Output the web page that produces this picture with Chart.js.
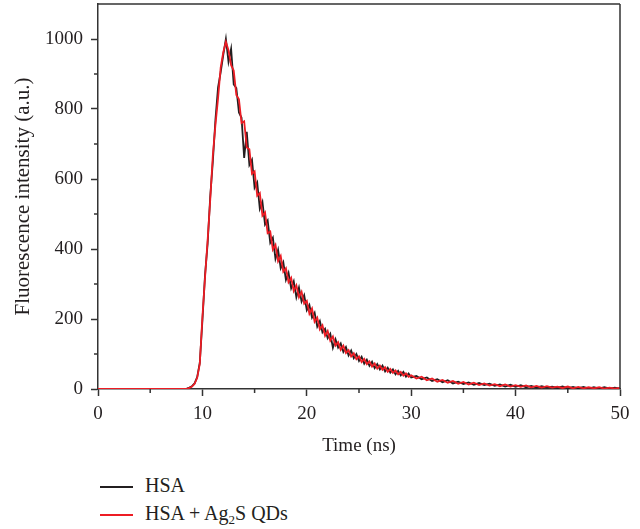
<!DOCTYPE html>
<html>
<head>
<meta charset="utf-8">
<script src="https://cdn.jsdelivr.net/npm/chart.js@4"></script>
<style>
  body { margin: 0; background: #fff; }
  #wrap { position: relative; width: 640px; height: 529px; font-family: 'Liberation Serif', serif; color: #231f20; }
  #box { position: absolute; left: 0; top: 0; width: 640px; height: 460px; }
  .leg { position: absolute; left: 100px; font-size: 20px; line-height: 22px; }
  .leg span.ln { display: inline-block; width: 33px; height: 2px; vertical-align: middle; margin-right: 12px; }
  sub { font-size: 13px; vertical-align: -4px; line-height: 0; }
</style>
</head>
<body>
<div id="wrap">
  <div id="box"><canvas id="myChart"></canvas></div>
  <div class="leg" style="top:474px"><span class="ln" style="background:#231f20"></span>HSA</div>
  <div class="leg" style="top:502px"><span class="ln" style="background:#ed1c24"></span>HSA + Ag<sub>2</sub>S QDs</div>
</div>
<script>
// time axis (ns)
const times = [0, 1, 2, 3, 4, 5, 6, 7, 8,
  8.5, 8.75,
  9, 9.25, 9.5, 9.75,
  10, 10.25, 10.5, 10.75,
  11, 11.25, 11.5, 11.75,
  12, 12.25, 12.5, 12.75,
  13, 13.25, 13.5, 13.75,
  14, 14.25, 14.5, 14.75,
  15, 15.25, 15.5, 15.75,
  16, 16.25, 16.5, 16.75,
  17, 17.25, 17.5, 17.75,
  18, 18.25, 18.5, 18.75,
  19, 19.25, 19.5, 19.75,
  20, 20.25, 20.5, 20.75,
  21, 21.25, 21.5, 21.75,
  22, 22.25, 22.5, 22.75,
  23, 23.25, 23.5, 23.75,
  24, 24.25, 24.5, 24.75,
  25, 25.25, 25.5, 25.75,
  26, 26.25, 26.5, 26.75,
  27, 27.25, 27.5, 27.75,
  28, 28.25, 28.5, 28.75,
  29, 29.25, 29.5, 29.75,
  30,
  30.5, 31, 31.5, 32, 32.5, 33, 33.5, 34, 34.5, 35,
  35.5, 36, 36.5, 37, 37.5, 38, 38.5, 39, 39.5, 40,
  40.5, 41, 41.5, 42, 42.5, 43, 43.5, 44, 44.5, 45,
  45.5, 46, 46.5, 47, 47.5, 48, 48.5, 49, 49.5, 50];

const hsa = [0, 0, 0, 0, 0, 0, 0, 0, 0,
  1, 4,
  8, 16, 34, 75,
  195, 325, 415, 550,
  650, 770, 862, 905,
  955, 1000, 935, 972,
  870, 860, 790, 775,
  660, 735, 640, 655,
  575, 590, 515, 535,
  470, 482, 418, 432,
  372, 398, 345, 362,
  312, 332, 288, 308,
  262, 290, 250, 268,
  225, 240, 204, 218,
  178, 194, 162, 172,
  145, 158, 118, 142,
  118, 130, 106, 120,
  96, 110, 88, 100,
  80, 92, 72, 84,
  66, 78, 60, 71,
  56, 67, 50, 61,
  47, 56, 42, 52,
  39, 49, 35, 44,
  33,
  37, 28, 33, 23, 28, 19, 25, 16, 21, 14,
  19, 12, 17, 11, 15, 9, 13, 7, 12, 6,
  11, 5, 9, 4, 8, 4, 7, 3, 7, 2,
  6, 2, 6, 1, 5, 1, 5, 1, 4, 1];

const hsaQds = [0, 0, 0, 0, 0, 0, 0, 0, 0,
  0, 3,
  7, 15, 32, 72,
  205, 318, 425, 540,
  668, 755, 830, 918,
  962, 992, 968, 925,
  910, 840, 828, 760,
  765, 690, 685, 615,
  622, 552, 560, 495,
  505, 445, 450, 398,
  412, 365, 380, 335,
  345, 305, 318, 280,
  296, 262, 278, 244,
  252, 215, 230, 192,
  204, 170, 182, 152,
  166, 138, 150, 124,
  134, 112, 124, 103,
  111, 93, 102, 85,
  93, 77, 86, 71,
  79, 64, 73, 58,
  67, 55, 62, 49,
  57, 46, 53, 42,
  49, 38, 45, 35,
  39,
  30, 35, 25, 30, 21, 26, 18, 23, 15, 20,
  13, 18, 11, 16, 10, 14, 8, 13, 7, 11,
  6, 10, 5, 9, 4, 8, 4, 7, 3, 7,
  2, 6, 2, 5, 2, 5, 1, 4, 1, 3];

const xTicks = [0, 10, 20, 30, 40, 50];
const yTicks = [0, 200, 400, 600, 800, 1000];

const ink = '#231f20';
const axisFont = { family: 'Liberation Serif', size: 19 };

// frame on top/right plus short minor ticks
const framePlugin = {
  id: 'frame',
  afterDraw(chart) {
    const { ctx, chartArea: a, scales } = chart;
    ctx.save();
    ctx.strokeStyle = '#333';
    ctx.lineWidth = 1.5;
    ctx.beginPath();
    ctx.moveTo(a.left, a.top); ctx.lineTo(a.right, a.top);
    ctx.moveTo(a.right, a.top); ctx.lineTo(a.right, a.bottom);
    for (let v = 5; v < 50; v += 10) {
      const px = scales.x.getPixelForValue(v);
      ctx.moveTo(px, a.bottom); ctx.lineTo(px, a.bottom + 4);
    }
    for (let v = 100; v < 1100; v += 200) {
      const py = scales.y.getPixelForValue(v);
      ctx.moveTo(a.left, py); ctx.lineTo(a.left - 4, py);
    }
    ctx.stroke();
    ctx.restore();
  }
};

const data = {
  datasets: [
    {
      label: 'HSA',
      data: times.map((t, i) => ({ x: t, y: hsa[i] })),
      borderColor: ink,
      borderWidth: 1.8,
      order: 2,
    },
    {
      label: 'HSA + Ag₂S QDs',
      data: times.map((t, i) => ({ x: t, y: hsaQds[i] })),
      borderColor: '#ed1c24',
      borderWidth: 1.8,
      order: 1,
    },
  ]
};

const config = {
  type: 'line',
  data: data,
  options: {
    responsive: false,
    animation: false,
    layout: { padding: { left: 0, right: 20, top: 4, bottom: 0 } },
    elements: { point: { radius: 0 }, line: { tension: 0 } },
    plugins: { legend: { display: false }, tooltip: { enabled: false } },
    scales: {
      x: {
        type: 'linear',
        min: 0,
        max: 50,
        afterBuildTicks: s => { s.ticks = xTicks.map(v => ({ value: v })); },
        afterFit: s => { s.height = 71; s.paddingLeft = 0; s.paddingRight = 0; },
        grid: { drawOnChartArea: false, tickLength: 7, tickWidth: 1.5, tickColor: '#333' },
        border: { color: '#333', width: 1.5 },
        ticks: { color: ink, font: axisFont, padding: 7, maxRotation: 0, callback: v => String(v) },
        title: { display: true, text: 'Time (ns)', color: ink, font: axisFont, padding: { top: 0, bottom: 3 } }
      },
      y: {
        min: 0,
        max: 1100,
        afterBuildTicks: s => { s.ticks = yTicks.map(v => ({ value: v })); },
        afterFit: s => { s.width = 98; s.paddingTop = 0; s.paddingBottom = 0; },
        grid: { drawOnChartArea: false, tickLength: 7, tickWidth: 1.5, tickColor: '#333' },
        border: { color: '#333', width: 1.5 },
        ticks: { color: ink, font: axisFont, padding: 8, callback: v => String(v) },
        title: { display: true, text: 'Fluorescence intensity (a.u.)', color: ink, font: { family: 'Liberation Serif', size: 21 }, padding: { top: 11, bottom: 0 } }
      }
    }
  },
  plugins: [framePlugin]
};

const canvas = document.getElementById('myChart');
canvas.width = 640;
canvas.height = 460;
const myChart = new Chart(canvas, config);
</script>
</body>
</html>
